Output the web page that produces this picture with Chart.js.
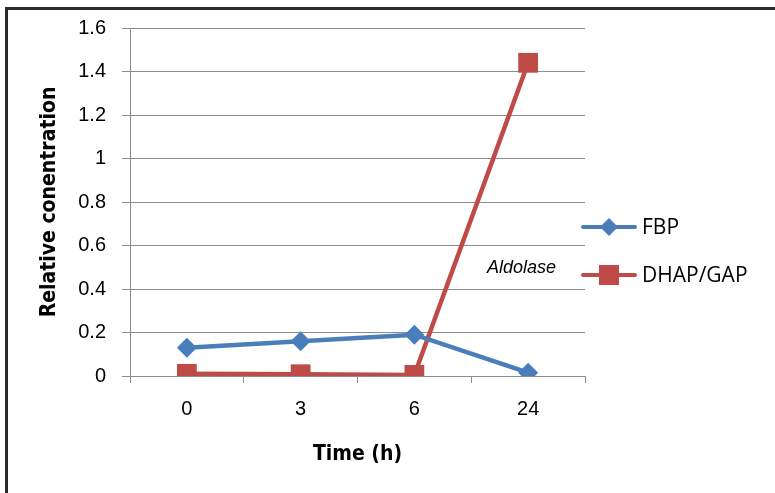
<!DOCTYPE html>
<html>
<head>
<meta charset="utf-8">
<script src="https://cdn.jsdelivr.net/npm/chart.js@4"></script>
<style>
  html, body { margin: 0; padding: 0; background: #ffffff; }
  #wrap { width: 775px; height: 493px; position: relative; }
</style>
</head>
<body>
<div id="wrap"><canvas id="c" width="775" height="493"></canvas></div>
<script>
// Sampling times and measured relative concentrations
const timeLabels = ['0', '3', '6', '24'];
const fbpValues = [0.13, 0.16, 0.19, 0.015];
const dhapValues = [0.01, 0.008, 0.005, 1.44];
const seriesNames = ['FBP', 'DHAP/GAP'];
const yTicks = [0, 0.2, 0.4, 0.6, 0.8, 1, 1.2, 1.4, 1.6];

const blue = '#4a7ebb';
const red = '#be4b48';
const gridGray = '#8c8c8c';
const tickFont = "'Liberation Sans', Arial, sans-serif";
const titleFont = "'DejaVu Sans Condensed', 'Liberation Sans', Arial, sans-serif";

// Outer frame, annotation text and a line+marker legend on the right
const decorations = {
  id: 'decorations',
  beforeDraw(chart) {
    const ctx = chart.ctx;
    ctx.save();
    ctx.fillStyle = '#ffffff';
    ctx.fillRect(0, 0, chart.width, chart.height);
    ctx.strokeStyle = '#2b2b2b';
    ctx.lineWidth = 3;
    ctx.strokeRect(6.5, 8.5, 900, 700);
    ctx.restore();
  },
  afterDraw(chart) {
    const ctx = chart.ctx;
    ctx.save();
    // annotation
    ctx.font = "italic 18px 'Liberation Sans', Arial, sans-serif";
    ctx.fillStyle = '#000';
    ctx.textBaseline = 'middle';
    ctx.textAlign = 'left';
    ctx.fillText('Aldolase', 487, 268);

    // legend
    const items = chart.data.datasets.map((ds, i) => ({
      name: ds.label, color: ds.borderColor, style: ds.pointStyle,
      y: 227 + i * 48
    }));
    items.forEach(it => {
      ctx.strokeStyle = it.color;
      ctx.lineWidth = 4;
      ctx.lineCap = 'round';
      ctx.beginPath();
      ctx.moveTo(583, it.y);
      ctx.lineTo(635, it.y);
      ctx.stroke();
      ctx.fillStyle = it.color;
      const cx = 609;
      if (it.style === 'rectRot') {
        ctx.beginPath();
        ctx.moveTo(cx - 9, it.y);
        ctx.lineTo(cx, it.y - 9);
        ctx.lineTo(cx + 9, it.y);
        ctx.lineTo(cx, it.y + 9);
        ctx.closePath();
        ctx.fill();
      } else {
        ctx.fillRect(cx - 10, it.y - 10, 20, 20);
      }
      ctx.fillStyle = '#000';
      ctx.font = "21px 'Open Sans', 'Liberation Sans', Arial, sans-serif";
      ctx.fillText(it.name, 642, it.y + 1);
    });
    ctx.restore();
  }
};

new Chart(document.getElementById('c'), {
  type: 'line',
  data: {
    labels: timeLabels,
    datasets: [
      {
        label: seriesNames[0],
        data: fbpValues,
        borderColor: blue,
        backgroundColor: blue,
        borderWidth: 4.5,
        pointStyle: 'rectRot',
        pointRadius: 10,
        pointHoverRadius: 10,
        pointBorderWidth: 0,
        tension: 0
      },
      {
        label: seriesNames[1],
        data: dhapValues,
        borderColor: red,
        backgroundColor: red,
        borderWidth: 4.5,
        pointStyle: 'rect',
        pointRadius: 14,
        pointHoverRadius: 14,
        pointBorderWidth: 0,
        tension: 0
      }
    ]
  },
  options: {
    responsive: false,
    animation: false,
    events: [],
    layout: { padding: { left: 33, top: 26, right: 190, bottom: 22 } },
    plugins: {
      legend: { display: false },
      tooltip: { enabled: false }
    },
    scales: {
      x: {
        offset: true,
        afterFit(scale) { scale.height = 493 - 376 - 22; },
        grid: {
          offset: true,
          drawOnChartArea: false,
          drawTicks: true,
          tickLength: 7,
          color: gridGray,
          lineWidth: 1
        },
        border: { display: true, color: gridGray, width: 1 },
        ticks: {
          color: '#000',
          font: { family: tickFont, size: 20 },
          padding: 14
        },
        title: {
          display: true,
          text: 'Time (h)',
          color: '#000',
          font: { family: titleFont, size: 21, weight: 'bold' },
          padding: { top: 4 }
        }
      },
      y: {
        min: 0,
        max: 1.6,
        afterFit(scale) { scale.width = 130 - 33; },
        afterBuildTicks(scale) { scale.ticks = yTicks.map(v => ({ value: v })); },
        grid: {
          color: gridGray,
          lineWidth: 1,
          drawTicks: true,
          tickLength: 8
        },
        border: { display: true, color: gridGray, width: 1 },
        ticks: {
          color: '#000',
          font: { family: tickFont, size: 20 },
          padding: 16,
          callback: v => String(v)
        },
        title: {
          display: true,
          text: 'Relative conentration',
          color: '#000',
          font: { family: titleFont, size: 21, weight: 'bold' },
          padding: { bottom: 10 }
        }
      }
    }
  },
  plugins: [decorations]
});
</script>
</body>
</html>
